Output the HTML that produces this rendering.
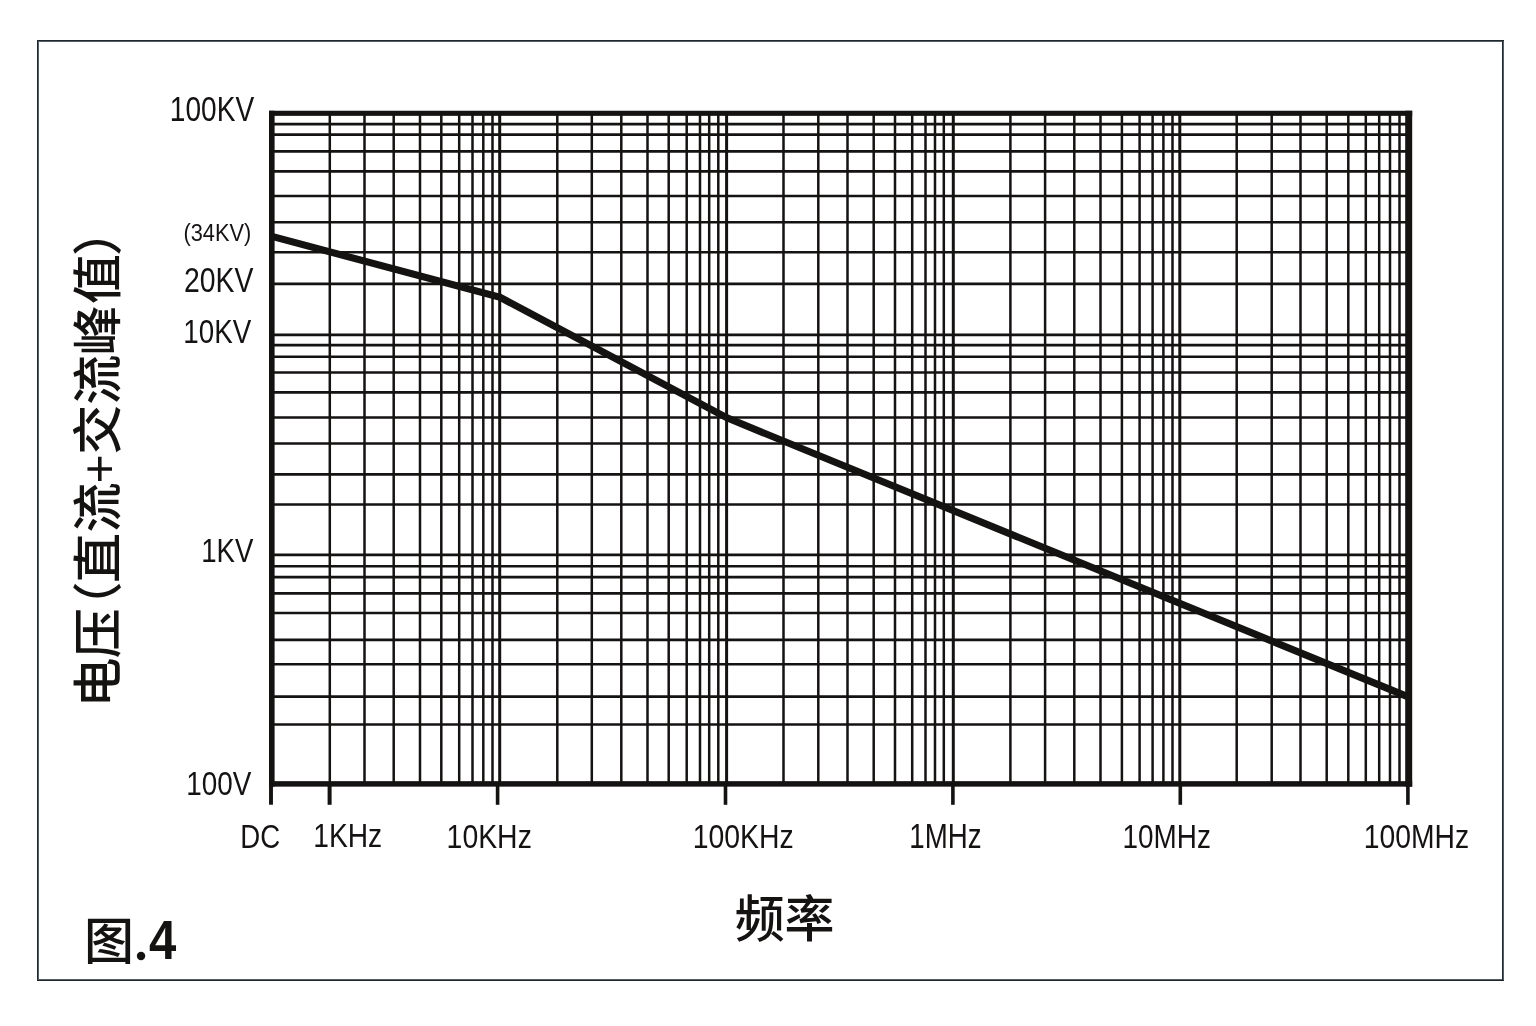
<!DOCTYPE html>
<html lang="zh"><head><meta charset="utf-8"><title>图.4 电压 (直流+交流峰值) - 频率</title>
<style>html,body{margin:0;padding:0;background:#fff;}body{width:1536px;height:1026px;overflow:hidden;font-family:"Liberation Sans",sans-serif;}svg{display:block;}text{font-family:"Liberation Sans",sans-serif;fill:#151212;}text.cjk{font-family:"Liberation Sans","Noto Sans CJK SC",sans-serif;font-weight:500;}</style>
</head><body>
<svg width="1536" height="1026" viewBox="0 0 1536 1026">
<rect width="1536" height="1026" fill="#fff"/>
<g fill="#525e67"><rect x="38" y="41" width="1" height="939"/><rect x="1503" y="40" width="1" height="941"/><rect x="38" y="41" width="1465" height="1"/><rect x="38" y="979" width="1465" height="1"/></g>
<g fill="#22272a"><rect x="37" y="40" width="1" height="941"/><rect x="1502" y="40" width="1" height="941"/><rect x="37" y="40" width="1467" height="1"/><rect x="37" y="980" width="1467" height="1"/></g>
<g stroke="#151212" fill="none" shape-rendering="auto">
<path stroke-width="2.5" d="M329.8 113.3V783.9M364.5 113.3V783.9M393.7 113.3V783.9M420 113.3V783.9M441.3 113.3V783.9M459.2 113.3V783.9M472.5 113.3V783.9M483.3 113.3V783.9M492.5 113.3V783.9M557.3 113.3V783.9M591.8 113.3V783.9M621.3 113.3V783.9M647.5 113.3V783.9M668.7 113.3V783.9M686.7 113.3V783.9M700 113.3V783.9M709.2 113.3V783.9M718.3 113.3V783.9M783.5 113.3V783.9M818.3 113.3V783.9M847.5 113.3V783.9M873.7 113.3V783.9M895 113.3V783.9M912.2 113.3V783.9M925.5 113.3V783.9M935 113.3V783.9M943.8 113.3V783.9M1010.4 113.3V783.9M1045.1 113.3V783.9M1074.3 113.3V783.9M1100.5 113.3V783.9M1121.9 113.3V783.9M1139.6 113.3V783.9M1152.6 113.3V783.9M1163.4 113.3V783.9M1172.5 113.3V783.9M1236.7 113.3V783.9M1271.7 113.3V783.9M1300.5 113.3V783.9M1326.7 113.3V783.9M1348.3 113.3V783.9M1365.8 113.3V783.9M1379.2 113.3V783.9M1390 113.3V783.9M1399.5 113.3V783.9"/>
<path stroke-width="3" d="M499.7 113.3V783.9M726.6 113.3V783.9M953.3 113.3V783.9M1179.8 113.3V783.9"/>
<path stroke-width="2.65" d="M271.8 124.1H1408.7M271.8 134.6H1408.7M271.8 151.3H1408.7M271.8 171.4H1408.7M271.8 196H1408.7M271.8 222.2H1408.7M271.8 252.2H1408.7M271.8 283.8H1408.7M271.8 334.9H1408.7M271.8 345.1H1408.7M271.8 356.7H1408.7M271.8 372.5H1408.7M271.8 392.4H1408.7M271.8 417.5H1408.7M271.8 443.5H1408.7M271.8 474.4H1408.7M271.8 504.5H1408.7M271.8 554.8H1408.7M271.8 566.2H1408.7M271.8 577.1H1408.7M271.8 593.3H1408.7M271.8 613H1408.7M271.8 639.8H1408.7M271.8 664.2H1408.7M271.8 696.6H1408.7M271.8 724.5H1408.7"/>
<polyline stroke-width="7.1" stroke-linejoin="miter" points="271,236.1 500.2,297.4 727,417.9 1407,696.4"/>
</g>
<g fill="#151212">
<rect x="269" y="110.75" width="1143.2" height="5.1"/>
<rect x="269" y="781.15" width="1143.2" height="5.5"/>
<rect x="269" y="110.75" width="5.6" height="675.9"/>
<rect x="1405.2" y="110.75" width="7" height="675.9"/>
<rect x="269.05" y="783.9" width="3.9" height="20.8"/>
<rect x="327.6" y="783.9" width="4" height="20.9"/>
<rect x="495.8" y="783.9" width="3.6" height="20.9"/>
<rect x="723.7" y="783.9" width="3.6" height="20.9"/>
<rect x="951.1" y="783.9" width="3.6" height="20.9"/>
<rect x="1178.5" y="783.9" width="3.6" height="20.9"/>
<rect x="1406.1" y="783.9" width="3.6" height="20.9"/>
</g>
<g opacity="0.999">
<text font-size="100" font-weight="normal" transform="matrix(0.281 0 0 0.352 169.852 120.648)">100KV</text>
<text font-size="100" font-weight="normal" transform="matrix(0.218 0 0 0.246 183.494 240.839)">(34KV)</text>
<text font-size="100" font-weight="normal" transform="matrix(0.284 0 0 0.344 183.941 291.656)">20KV</text>
<text font-size="100" font-weight="normal" transform="matrix(0.278 0 0 0.331 183.257 342.969)">10KV</text>
<text font-size="100" font-weight="normal" transform="matrix(0.276 0 0 0.333 201.269 561.9)">1KV</text>
<text font-size="100" font-weight="normal" transform="matrix(0.279 0 0 0.335 186.149 794.565)">100V</text>
<text font-size="100" font-weight="normal" transform="matrix(0.276 0 0 0.332 240.292 848.168)">DC</text>
<text font-size="100" font-weight="normal" transform="matrix(0.282 0 0 0.339 313.229 847.3)">1KHz</text>
<text font-size="100" font-weight="normal" transform="matrix(0.284 0 0 0.331 446.611 847.969)">10KHz</text>
<text font-size="100" font-weight="normal" transform="matrix(0.284 0 0 0.331 692.712 847.969)">100KHz</text>
<text font-size="100" font-weight="normal" transform="matrix(0.277 0 0 0.346 909.32 847.64)">1MHz</text>
<text font-size="100" font-weight="normal" transform="matrix(0.279 0 0 0.337 1122.589 848.203)">10MHz</text>
<text font-size="100" font-weight="normal" transform="matrix(0.283 0 0 0.331 1363.72 847.969)">100MHz</text>
<text font-size="100" font-weight="bold" transform="matrix(0.491 0 0 0.549 148.969 958.82)">4</text>
</g>
<circle cx="141.05" cy="956" r="4.2" fill="#151212"/>
<text class="cjk" font-size="50" transform="translate(116 707.5) rotate(-90)" x="0 49.3 76 124.5 175 224 252.7 302.8 352 403.5 451.4" y="0">电压（直流+交流峰值）</text>
<text class="cjk" font-size="50" x="734.8 784.6" y="937.2">频率</text>
<text class="cjk" font-size="50" x="83.9" y="959.3">图</text>
</svg></body></html>
